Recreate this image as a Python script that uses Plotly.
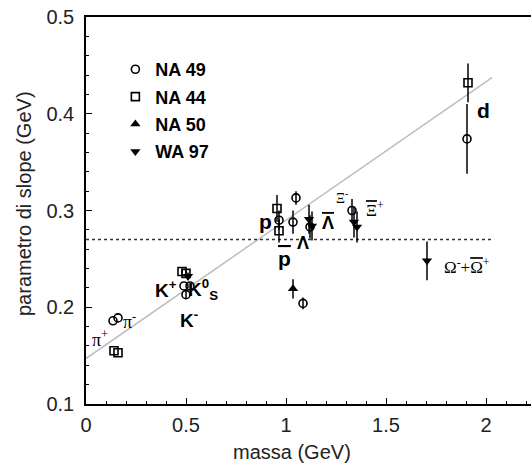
import plotly.graph_objects as go

# ---- data ----
na49_x = [0.135, 0.16, 0.49, 0.52, 0.50, 0.965, 1.035, 1.05, 1.12, 1.33, 1.085, 1.905]
na49_y = [0.186, 0.189, 0.222, 0.222, 0.213, 0.290, 0.288, 0.313, 0.283, 0.300, 0.204, 0.374]
na49_e = [0.0, 0.0, 0.0, 0.0, 0.004, 0.010, 0.012, 0.007, 0.012, 0.012, 0.006, 0.036]

na44_x = [0.14, 0.16, 0.48, 0.50, 0.955, 0.965, 1.91]
na44_y = [0.155, 0.153, 0.237, 0.235, 0.302, 0.279, 0.432]
na44_e = [0.0, 0.0, 0.003, 0.003, 0.014, 0.012, 0.020]

na50_x = [1.035]
na50_y = [0.219]
na50_e = [0.010]

wa97_x = [0.51, 1.115, 1.13, 1.34, 1.355, 1.705]
wa97_y = [0.232, 0.291, 0.284, 0.288, 0.283, 0.248]
wa97_e = [0.004, 0.015, 0.015, 0.016, 0.016, 0.020]

fit_intercept = 0.147
fit_slope = 0.143
fit_x = [0.0, 2.03]
ref_level = 0.27

OV = '<span style="text-decoration:overline">'
labels = ["π<sup>+</sup>", "π<sup>-</sup>", "<b>K<sup>+</sup></b>", "<b>K<sup>0</sup><sub>S</sub></b>",
          "<b>K<sup>-</sup></b>", "<b>p</b>", "<b>" + OV + "p</span></b>", "<b>Λ</b>",
          "<b>" + OV + "Λ</span></b>",
          "Ξ<sup>-</sup>", OV + "Ξ</span><sup>+</sup>",
          "Ω<sup>-</sup>+" + OV + "Ω</span><sup>+</sup>", "<b>d</b>"]
label_x = [0.072, 0.215, 0.40, 0.585, 0.515, 0.895, 0.99, 1.085, 1.21, 1.28, 1.445, 1.905, 1.985]
label_y = [0.168, 0.186, 0.219, 0.218, 0.188, 0.289, 0.250, 0.266, 0.287, 0.314, 0.302, 0.243, 0.403]
label_size = [18, 18, 19, 19, 19, 21, 21, 18, 18, 14, 17, 17, 21]
label_serif = [True, True, False, False, False, False, False, False, False, True, True, True, False]

x_ticks = [0, 0.5, 1, 1.5, 2]
x_tick_text = ["0", "0.5", "1", "1.5", "2"]
y_ticks = [0.1, 0.2, 0.3, 0.4, 0.5]
y_tick_text = ["0.1", "0.2", "0.3", "0.4", "0.5"]

FONT = "Liberation Sans, Arial, sans-serif"
SERIF = "Liberation Serif, Times New Roman, serif"

fig = go.Figure()

# fit line and reference level
fit_y = [fit_intercept + fit_slope * v for v in fit_x]
fig.add_trace(go.Scatter(x=fit_x, y=fit_y, mode="lines",
                         line=dict(color="#bdbdbd", width=1.5), showlegend=False, hoverinfo="skip"))
fig.add_trace(go.Scatter(x=fit_x, y=[ref_level, ref_level], mode="lines",
                         line=dict(color="#333333", width=1.3, dash="dot"), showlegend=False, hoverinfo="skip"))

def err(e):
    return dict(type="data", array=e, visible=True, color="black", thickness=1.5, width=0)

fig.add_trace(go.Scatter(x=na49_x, y=na49_y, mode="markers", name="NA 49", error_y=err(na49_e),
                         legendgroup="a",
                         marker=dict(symbol="circle-open", size=8, color="black", line=dict(width=1.6))))
fig.add_trace(go.Scatter(x=na44_x, y=na44_y, mode="markers", name="NA 44", error_y=err(na44_e),
                         legendgroup="b",
                         marker=dict(symbol="square-open", size=8, color="black", line=dict(width=1.6))))
fig.add_trace(go.Scatter(x=na50_x, y=na50_y, mode="markers", name="NA 50", error_y=err(na50_e),
                         legendgroup="c",
                         marker=dict(symbol="triangle-up", size=9, color="black")))
fig.add_trace(go.Scatter(x=wa97_x, y=wa97_y, mode="markers", name="WA 97", error_y=err(wa97_e),
                         legendgroup="d",
                         marker=dict(symbol="triangle-down", size=9, color="black")))

for t, lx, ly, s, sf in zip(labels, label_x, label_y, label_size, label_serif):
    fig.add_annotation(x=lx, y=ly, text=t, showarrow=False,
                       font=dict(family=SERIF if sf else FONT, size=s, color="black"))

fig.add_annotation(xref="paper", yref="paper", x=(292 - 86) / 445, y=-(452 - 404) / 387,
                   text="massa (GeV)", showarrow=False, font=dict(family=FONT, size=20, color="#222"),
                   xanchor="center", yanchor="middle")
fig.add_annotation(xref="paper", yref="paper", x=-(86 - 24) / 445, y=1 - (204 - 17) / 387,
                   text="parametro di slope (GeV)", showarrow=False, textangle=-90,
                   font=dict(family=FONT, size=20, color="#222"), xanchor="center", yanchor="middle")

fig.update_layout(
    width=531, height=467,
    margin=dict(l=86, r=0, t=17, b=63),
    paper_bgcolor="white", plot_bgcolor="white",
    font=dict(family=FONT, color="#222"),
    legend=dict(x=0.066, y=0.912, xanchor="left", yanchor="top", bgcolor="rgba(0,0,0,0)",
                font=dict(family=FONT, size=18, color="black", weight="bold"),
                itemwidth=30, tracegroupgap=1),
    xaxis=dict(range=[0, 2.225], showgrid=False, zeroline=False, showline=True, linecolor="black",
               linewidth=1.5, mirror=True, ticks="inside", ticklen=6, tickcolor="black",
               tickvals=x_ticks, ticktext=x_tick_text, tickfont=dict(size=20, color="#222"),
               ticklabelstandoff=2,
               minor=dict(dtick=0.1, ticks="inside", ticklen=3, tickcolor="black", showgrid=False)),
    yaxis=dict(range=[0.1, 0.5], showgrid=False, zeroline=False, showline=True, linecolor="black",
               linewidth=1.5, mirror=False, ticks="inside", ticklen=6, tickcolor="black",
               tickvals=y_ticks, ticktext=y_tick_text, tickfont=dict(size=20, color="#222"),
               ticklabelstandoff=6,
               minor=dict(dtick=0.02, ticks="inside", ticklen=3, tickcolor="black", showgrid=False)),
)

fig.write_html("out.html")
